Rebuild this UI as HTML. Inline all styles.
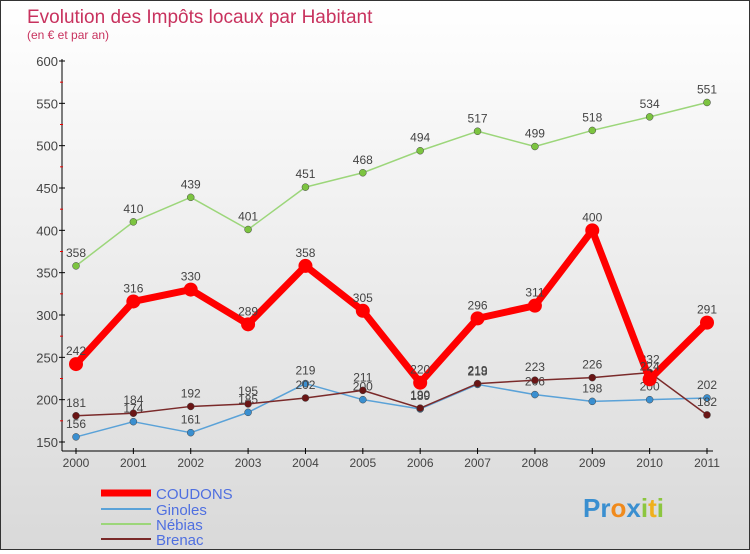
<!DOCTYPE html>
<html><head><meta charset="utf-8"><style>
body{margin:0}
#wrap{width:748px;height:548px;border:1px solid #333;background:linear-gradient(#fff,#d9d9d9);position:relative;font-family:"Liberation Sans",sans-serif}
</style></head><body>
<div id="wrap">
<svg id="chart" width="748" height="548" xmlns="http://www.w3.org/2000/svg">
<text x="26" y="22" font-size="19" fill="#c8325e">Evolution des Impôts locaux par Habitant</text>
<text x="26" y="38" font-size="12" fill="#c8325e">(en € et par an)</text>
<g id="axes"></g><g id="series"></g>
<g>
<line x1="100" y1="492" x2="150" y2="492" stroke="#f00" stroke-width="7"/>
<text x="155" y="498" font-size="15" fill="#4f6fe0">COUDONS</text>
<line x1="100" y1="508" x2="150" y2="508" stroke="#5aa2d8" stroke-width="2"/>
<text x="155" y="514" font-size="15" fill="#4f6fe0">Ginoles</text>
<line x1="100" y1="523" x2="150" y2="523" stroke="#9cd67a" stroke-width="2"/>
<text x="155" y="529" font-size="15" fill="#4f6fe0">Nébias</text>
<line x1="100" y1="538" x2="150" y2="538" stroke="#7a2a2a" stroke-width="2"/>
<text x="155" y="544" font-size="15" fill="#4f6fe0">Brenac</text>
</g>
<text x="582" y="516" font-size="26" font-weight="bold"><tspan fill="#3a8fd0">Pr</tspan><tspan fill="#f08a1c">o</tspan><tspan fill="#3a8fd0">x</tspan><tspan fill="#8cc63f">i</tspan><tspan fill="#f0b01c">t</tspan><tspan fill="#8cc63f">i</tspan></text>
</svg></div>
<script>
const years=["2000","2001","2002","2003","2004","2005","2006","2007","2008","2009","2010","2011"];
const yTicks=[150,200,250,300,350,400,450,500,550,600];
const coudons=[242,316,330,289,358,305,220,296,311,400,224,291];
const ginoles=[156,174,161,185,219,200,189,218,206,198,200,202];
const nebias=[358,410,439,401,451,468,494,517,499,518,534,551];
const brenac=[181,184,192,195,202,211,190,219,223,226,232,182];
const NS="http://www.w3.org/2000/svg";
const X=i=>75+i*(706-75)/(years.length-1);
const Y=v=>441-(v-150)*(441-60)/450;
function mk(t,a,p){const e=document.createElementNS(NS,t);for(const k in a)e.setAttribute(k,a[k]);p.appendChild(e);return e;}
const ax=document.getElementById('axes');
const yl=mk('line',{x1:61,y1:58,x2:61,y2:450,stroke:'#000'},ax);


const xl=mk('line',{x1:61,y1:450,x2:712,y2:450,stroke:'#000'},ax);


yTicks.forEach((v,i)=>{
 mk('line',{x1:58,y1:Y(v),x2:64,y2:Y(v),stroke:'#000'},ax);
 if(i<yTicks.length-1)mk('line',{x1:59,y1:Y(v+25),x2:62,y2:Y(v+25),stroke:'#e00'},ax);
 const t=mk('text',{x:57,y:Y(v)+5,'font-size':13,fill:'#444','text-anchor':'end'},ax);t.textContent=v;
 
 
});
years.forEach((y,i)=>{
 mk('line',{x1:X(i),y1:447,x2:X(i),y2:453,stroke:'#000'},ax);
 const t=mk('text',{x:X(i),y:466,'font-size':12,fill:'#444','text-anchor':'middle'},ax);t.textContent=y;
 
 
});
const sg=document.getElementById('series');
function series(name,data,color,w,r,fill){
 const g=mk('g',{},sg);
 
 
 mk('polyline',{points:data.map((v,i)=>X(i)+','+Y(v)).join(' '),fill:'none',stroke:color,'stroke-width':w,'stroke-linejoin':'round'},g);
 data.forEach((v,i)=>{
  const c=mk('circle',{cx:X(i),cy:Y(v),r:r,fill:fill,stroke:'#444','stroke-width':r>5?0:0.5},g);
  
  
  const t=mk('text',{x:X(i),y:Y(v)-9,'font-size':12,fill:'#444','text-anchor':'middle'},g);t.textContent=v;
  
  
 });
}
series('nebias',nebias,'#9cd67a',1.5,3.5,'#7cc440');
series('ginoles',ginoles,'#5aa2d8',1.5,3.5,'#3a8fd0');
series('brenac',brenac,'#7a2a2a',1.5,3.5,'#6a1515');
series('coudons',coudons,'#f00',7,7,'#f00');
</script>
</body></html>
